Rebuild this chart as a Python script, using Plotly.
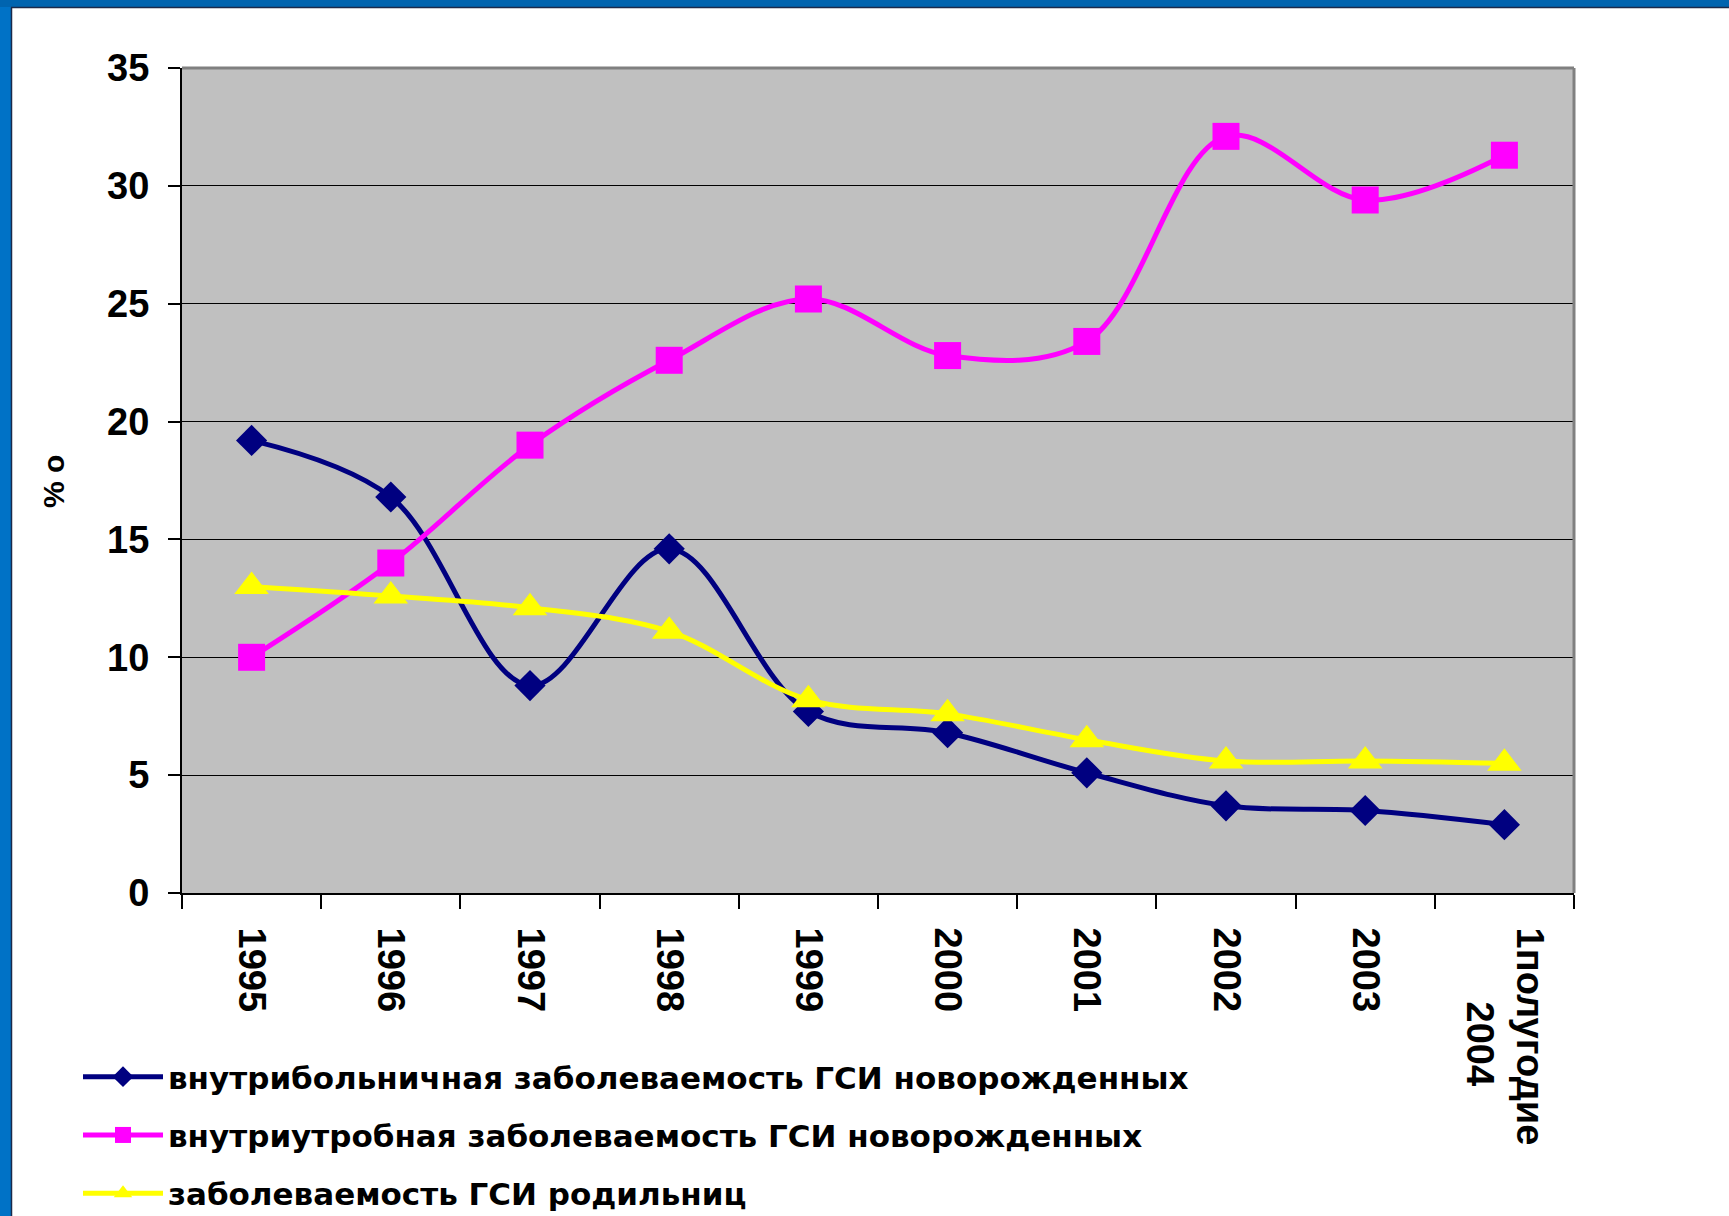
import plotly.graph_objects as go

NB = "\u00a0"
categories = ["1995", "1996", "1997", "1998", "1999", "2000", "2001", "2002", "2003",
              "1полугодие<br>" + NB * 7 + "2004"]
nosocomial = [19.2, 16.8, 8.8, 14.6, 7.7, 6.8, 5.1, 3.7, 3.5, 2.9]
intrauterine = [10.0, 14.0, 19.0, 22.6, 25.2, 22.8, 23.4, 32.1, 29.4, 31.3]
puerperal = [13.0, 12.6, 12.1, 11.1, 8.2, 7.6, 6.5, 5.6, 5.6, 5.5]
names = ["внутрибольничная заболеваемость ГСИ новорожденных",
         "внутриутробная заболеваемость ГСИ новорожденных",
         "заболеваемость ГСИ родильниц"]
y_ticks = [0, 5, 10, 15, 20, 25, 30, 35]

W, H = 1729, 1216
L, R, T, B = 182, 1729 - 1574, 68, 1216 - 893
PW, PH = W - L - R, H - T - B


def px(xp):
    return (xp - L) / PW


def py(yp):
    return (H - B - yp) / PH


fig = go.Figure()
styles = [
    ("#000080", "diamond", 24),
    ("#FF00FF", "square", 27),
    ("#FFFF00", "triangle-up", 30),
]
for i, (vals, name, (col, sym, sz)) in enumerate(zip([nosocomial, intrauterine, puerperal], names, styles)):
    fig.add_trace(go.Scatter(
        x=categories, y=vals, name=name, mode="lines+markers",
        line=dict(color=col, width=5, shape="spline", smoothing=1.0),
        marker=dict(symbol=sym, size=sz, color=col),
        legendgroup=f"g{i}",
    ))

axis_font = dict(family="Liberation Sans, Arial", size=38, color="black", weight="bold")

fig.update_xaxes(
    type="category", range=[-0.5, 9.5], tickangle=90, tickfont=axis_font,
    showline=True, linecolor="black", linewidth=2,
    ticks="outside", ticklen=14, tickwidth=1.5, tickcolor="black",
    tickson="boundaries", showgrid=False, ticklabelstandoff=25,
)
fig.update_yaxes(
    range=[0, 35], tickvals=y_ticks, tickfont=axis_font,
    showline=True, linecolor="black", linewidth=2,
    ticks="outside", ticklen=12, tickwidth=1.5, tickcolor="black",
    showgrid=True, gridcolor="black", gridwidth=1.2, zeroline=False,
    ticklabelstandoff=11,
)

shapes = [
    # plot-area border (top and right, grey)
    dict(type="line", xref="paper", yref="paper", x0=0, x1=1, y0=1, y1=1,
         line=dict(color="#808080", width=3)),
    dict(type="line", xref="paper", yref="paper", x0=1, x1=1, y0=0, y1=1,
         line=dict(color="#808080", width=3)),
    # slide frame
    dict(type="rect", xref="paper", yref="paper", x0=px(-5), x1=px(W + 5), y0=py(7), y1=py(-5),
         fillcolor="#0064AF", line=dict(width=0), layer="above"),
    dict(type="rect", xref="paper", yref="paper", x0=px(-5), x1=px(11), y0=py(H + 5), y1=py(7),
         fillcolor="#0072C6", line=dict(width=0), layer="above"),
    dict(type="line", xref="paper", yref="paper", x0=px(11), x1=px(W + 5), y0=py(7.5), y1=py(7.5),
         line=dict(color="#1B2A4A", width=1.5), layer="above"),
    dict(type="line", xref="paper", yref="paper", x0=px(11.5), x1=px(11.5), y0=py(H + 5), y1=py(7.5),
         line=dict(color="#1B2A4A", width=1.5), layer="above"),
]

fig.update_layout(
    width=W, height=H,
    margin=dict(l=L, r=R, t=T, b=B, autoexpand=False),
    paper_bgcolor="white", plot_bgcolor="#C0C0C0",
    shapes=shapes,
    showlegend=True,
    legend=dict(
        x=px(78), xanchor="left", y=py(1050), yanchor="top",
        font=dict(family="DejaVu Sans", size=31, color="black", weight="bold"),
        bgcolor="rgba(0,0,0,0)", tracegroupgap=15, itemwidth=80,
    ),
    annotations=[dict(
        text="% о", xref="paper", yref="paper", x=px(53), y=py(482),
        xanchor="center", yanchor="middle",
        showarrow=False, textangle=-90,
        font=dict(family="Liberation Sans, Arial", size=30, color="black", weight="bold"),
    )],
)

post = ("var s=document.createElement('style');"
        "s.textContent='html,body{margin:0;padding:0;overflow:hidden}';"
        "document.head.appendChild(s);")

fig.write_html("out.html", post_script=post, config={"displayModeBar": False})
